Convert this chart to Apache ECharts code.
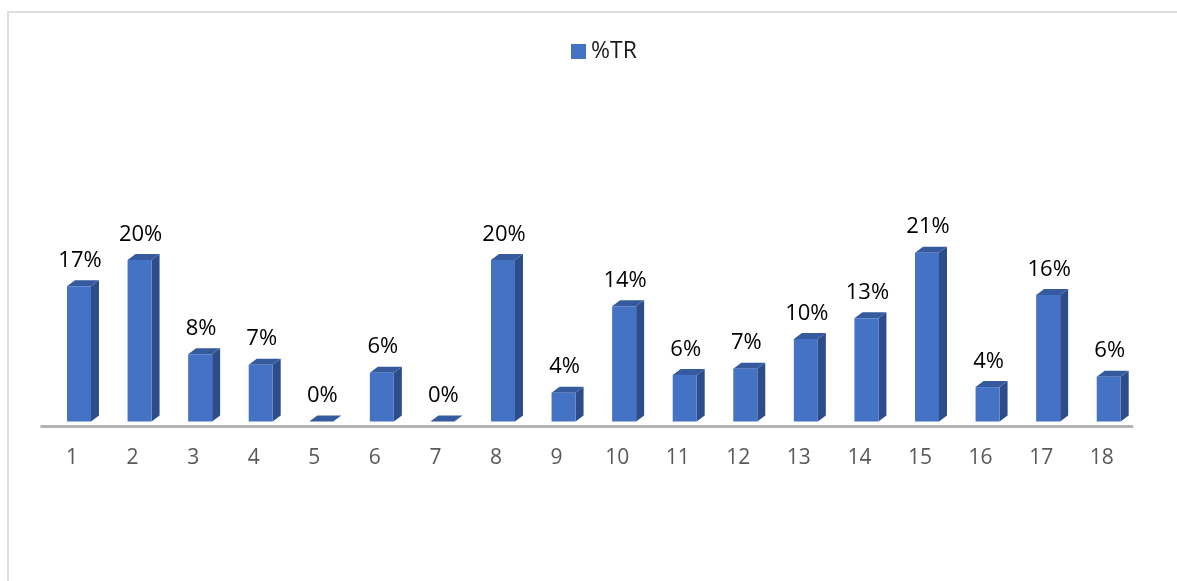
<!DOCTYPE html>
<html>
<head>
<meta charset="utf-8">
<style>html,body{margin:0;padding:0;background:#fff}#c{width:1177px;height:581px}</style>
<script src="https://cdn.jsdelivr.net/npm/echarts@6/dist/echarts.min.js"></script>
</head>
<body>
<div id="c"></div>
<script>
const categories = ['1','2','3','4','5','6','7','8','9','10','11','12','13','14','15','16','17','18'];
const trValues = [16.9,20.2,8.4,7.1,0,6.1,0,20.2,3.6,14.4,5.8,6.6,10.3,12.9,21.1,4.3,15.8,5.6];
const seriesName = '%TR';

const FONT = '"Open Sans","Noto Sans",sans-serif';
const chart = echarts.init(document.getElementById('c'));

function renderBar3D(params, api) {
  const lift = 4.5;
  const base = api.coord([api.value(0), 0]);
  const top = api.coord([api.value(0), api.value(1)]);
  const w = 24, dx = 8, dy = 6, shift = 7;
  const x0 = base[0] + shift - w / 2, x1 = x0 + w;
  const yb = base[1] - lift, yt = top[1] - lift;
  const children = [
    { type: 'polygon', shape: { points: [[x1, yb], [x1 + dx, yb - dy], [x1 + dx, yt - dy], [x1, yt]] },
      style: { fill: '#2c4d8a' } },
    { type: 'polygon', shape: { points: [[x0, yt], [x0 + dx, yt - dy], [x1 + dx, yt - dy], [x1, yt]] },
      style: { fill: '#355a9e' } }
  ];
  if (yb - yt > 0) {
    children.push({ type: 'rect', shape: { x: x0, y: yt, width: w, height: yb - yt },
      style: { fill: '#4472c4' } });
  }
  children.push({ type: 'text', x: x0 + w / 2 + 1, y: yt - 25.5,
    style: { text: api.value(1).toFixed(0) + '%', fill: '#000', font: '22px ' + FONT,
      textAlign: 'center', textVerticalAlign: 'middle' } });
  return { type: 'group', children };
}

chart.setOption({
  animation: false,
  backgroundColor: '#fff',
  color: ['#4472c4'],
  legend: {
    show: true, left: 566, top: 35, itemWidth: 15, itemHeight: 15, itemGap: 6, icon: 'rect',
    data: [seriesName],
    textStyle: { color: '#1a1a1a', fontSize: 23, fontFamily: FONT, padding: [6, 0, 0, 0] }
  },
  grid: { left: 41.7, right: 45, top: 66, height: 360, containLabel: false },
  xAxis: {
    type: 'category', data: categories,
    axisTick: { show: false },
    axisLine: { show: true, lineStyle: { color: '#b3b3b3', width: 3 } },
    axisLabel: { color: '#595959', fontSize: 21, fontFamily: FONT, margin: 22, interval: 0 },
    splitLine: { show: false }
  },
  yAxis: { type: 'value', min: 0, max: 45, show: false, splitLine: { show: false } },
  graphic: [
    { type: 'line', silent: true, shape: { x1: 7, y1: 12, x2: 1177, y2: 12 }, style: { stroke: '#dedede', lineWidth: 2 } },
    { type: 'line', silent: true, shape: { x1: 8, y1: 11, x2: 8, y2: 581 }, style: { stroke: '#dedede', lineWidth: 2 } }
  ],
  series: [{
    name: seriesName,
    type: 'custom',
    clip: false,
    renderItem: renderBar3D,
    itemStyle: { color: '#4472c4' },
    encode: { x: 0, y: 1 },
    data: trValues.map((v, i) => [i, v])
  }]
});
</script>
</body>
</html>
